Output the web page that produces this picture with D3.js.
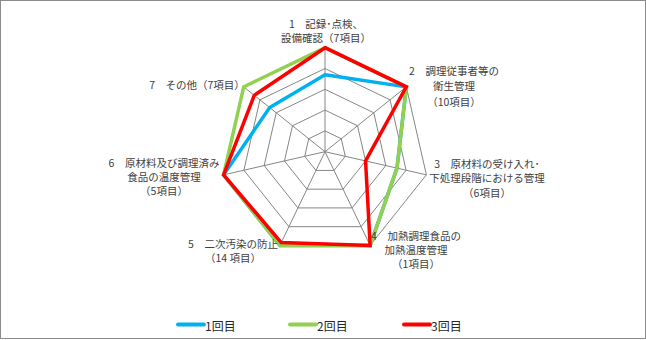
<!DOCTYPE html>
<html>
<head>
<meta charset="utf-8">
<script src="https://cdn.jsdelivr.net/npm/d3@7"></script>
<style>
  html, body { margin: 0; padding: 0; background: #fff; }
  svg { display: block; }
  text { font-family: "Noto Sans CJK JP", "Noto Sans", sans-serif; }
</style>
</head>
<body>
<svg id="chart" width="646" height="340"></svg>
<script>
// Axis labels (one array entry per line of each label)
const categories = [
  ["1　記録･点検、", "設備確認（7項目）"],
  ["2　調理従事者等の", "衛生管理", "（10項目）"],
  ["3　原材料の受け入れ･", "下処理段階における管理", "（6項目）"],
  ["4　加熱調理食品の", "加熱温度管理", "（1項目）"],
  ["5　二次汚染の防止", "（14 項目）"],
  ["6　原材料及び調理済み", "食品の温度管理", "（5項目）"],
  ["7　その他（7項目）"]
];

// Scores per axis (%), one array per inspection round
const round1 = [74, 100, 71, 100, 100, 100, 68];
const round2 = [100, 100, 71, 100, 100, 100, 100];
const round3 = [100, 100, 40, 100, 97, 100, 87];

const seriesNames = ["1回目", "2回目", "3回目"];
const gridTicks = [20, 40, 60, 80, 100];

// Layout
const W = 646, H = 340;
const cx = 325, cy = 151.7, R = 104;
const colors = ["#00b0f0", "#92d050", "#ff0000"];
// Offset of each label's first line from its axis end point
const labelOffsets = [
  [1, -24.7], [47.7, -16.8], [60.6, -11.8], [45.9, -9.6],
  [-46.9, -2], [-59.6, -12], [-46.7, -2.8]
];
const lineHeights = [14, 15.5, 14.5, 14, 14, 14, 14];

const svg = d3.select("#chart");

svg.append("rect")
  .attr("x", 0.5).attr("y", 0.5)
  .attr("width", W - 1).attr("height", H - 2)
  .attr("fill", "#fff")
  .attr("stroke", "#8c8c8c").attr("stroke-width", 1);

const n = categories.length;
const angle = d3.scaleLinear().domain([0, n]).range([0, 2 * Math.PI]);
const r = d3.scaleLinear().domain([0, 100]).range([0, R]);

const g = svg.append("g").attr("transform", `translate(${cx},${cy})`);

const pt = (i, v) => {
  const a = angle(i) - Math.PI / 2;
  return [r(v) * Math.cos(a), r(v) * Math.sin(a)];
};

// Grid rings
const ringLine = d3.line();
gridTicks.forEach(t => {
  const pts = d3.range(n).map(i => pt(i, t));
  g.append("path")
    .attr("d", ringLine(pts) + "Z")
    .attr("fill", "none")
    .attr("stroke", "#868686")
    .attr("stroke-width", 1);
});

// Spokes
d3.range(n).forEach(i => {
  const [x, y] = pt(i, 100);
  g.append("line")
    .attr("x1", 0).attr("y1", 0)
    .attr("x2", x).attr("y2", y)
    .attr("stroke", "#868686")
    .attr("stroke-width", 1);
});

// Series polygons
const series = [round1, round2, round3];
const radar = d3.lineRadial()
  .angle((d, i) => angle(i))
  .radius(d => r(d))
  .curve(d3.curveLinearClosed);

series.forEach((vals, k) => {
  g.append("path")
    .attr("d", radar(vals))
    .attr("fill", "none")
    .attr("stroke", colors[k])
    .attr("stroke-width", 3.5)
    .attr("stroke-linejoin", "miter");
});

// Axis labels
categories.forEach((lines, i) => {
  const [x, y] = pt(i, 100);
  const [dx, dy] = labelOffsets[i];
  const t = g.append("text")
    .attr("text-anchor", "middle")
    .attr("font-size", "10.5px")
    .attr("fill", "#404040");
  lines.forEach((s, j) => {
    t.append("tspan")
      .attr("x", x + dx)
      .attr("y", y + dy + j * lineHeights[i])
      .attr("dominant-baseline", "central")
      .text(s);
  });
});

// Legend
const legendX = [178, 290, 404];
const legend = svg.append("g");
seriesNames.forEach((name, k) => {
  legend.append("line")
    .attr("x1", legendX[k]).attr("x2", legendX[k] + 26)
    .attr("y1", 324.5).attr("y2", 324.5)
    .attr("stroke", colors[k])
    .attr("stroke-width", 4)
    .attr("stroke-linecap", "round");
  legend.append("text")
    .attr("x", legendX[k] + 27)
    .attr("y", 325)
    .attr("dominant-baseline", "central")
    .attr("font-size", "12px")
    .attr("fill", "#262626")
    .text(name);
});
</script>
</body>
</html>
